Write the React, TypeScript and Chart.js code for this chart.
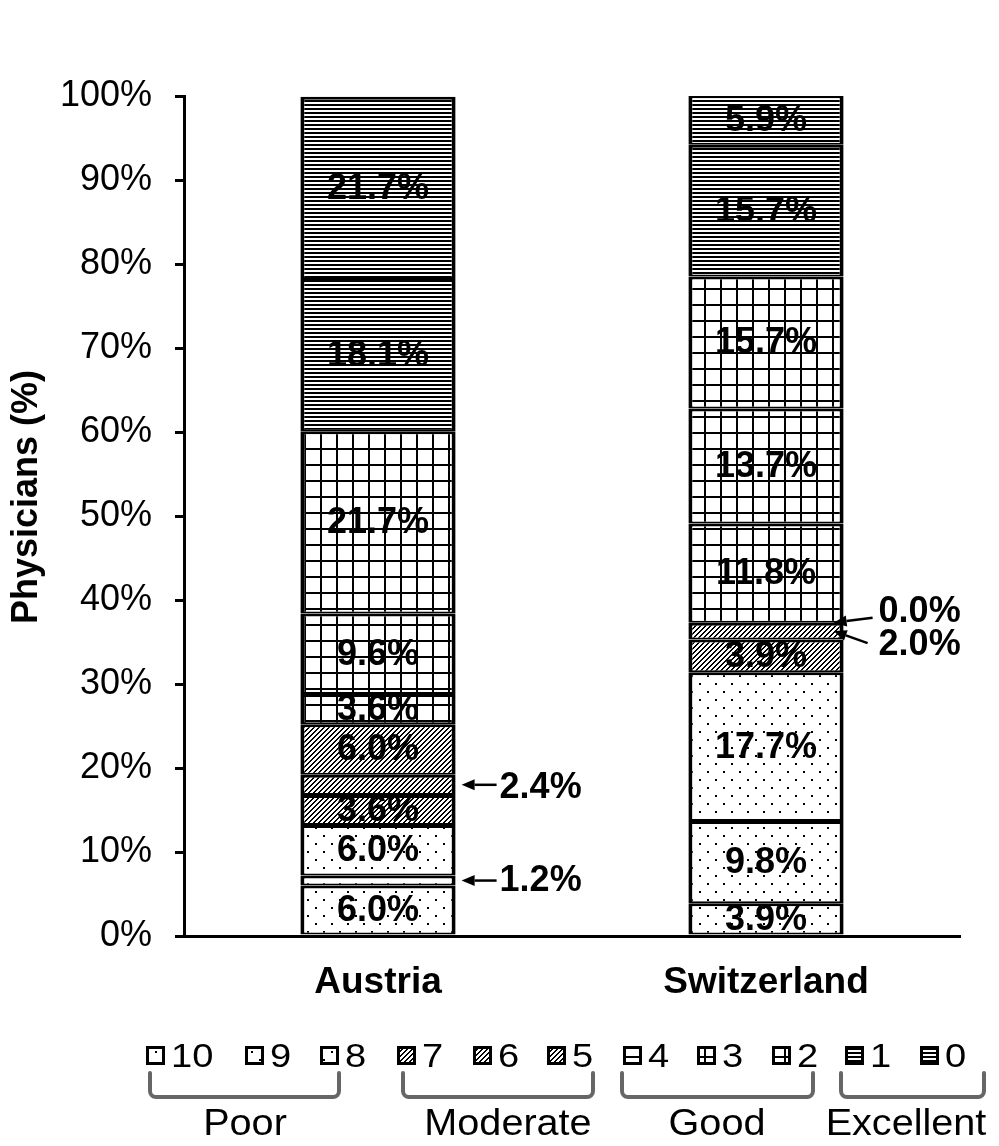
import { useEffect, useRef } from 'react';
import { Chart, registerables } from 'chart.js';

Chart.register(...registerables);

// ---- data ----
const countries = ['Austria', 'Switzerland'];
// rating scale, bottom of the stack first
const ratings = ['10', '9', '8', '7', '6', '5', '4', '3', '2', '1', '0'];
const austriaPct = [6.0, 1.2, 6.0, 3.6, 2.4, 6.0, 3.6, 9.6, 21.7, 18.1, 21.7];
const switzerlandPct = [3.9, 9.8, 17.7, 3.9, 2.0, 0.0, 11.8, 13.7, 15.7, 15.7, 5.9];
const yTickValues = [0, 10, 20, 30, 40, 50, 60, 70, 80, 90, 100];
const groupNames = ['Poor', 'Moderate', 'Good', 'Excellent'];
const groupMembers = [['10', '9', '8'], ['7', '6', '5'], ['4', '3', '2'], ['1', '0']];

// segments too thin for an inside label get an arrow callout
const calloutCountry = [0, 0, 1, 1];
const calloutRating = ['6', '9', '5', '6'];

const FONT = "'Liberation Sans', Arial, Helvetica, sans-serif";

type Fill = 'dots' | 'hatch' | 'grid' | 'lines';
const fillFor = (rating: string): Fill => {
  const g = groupMembers.findIndex((m) => m.includes(rating));
  return (['dots', 'hatch', 'grid', 'lines'] as Fill[])[g];
};

function makePattern(kind: Fill): CanvasPattern {
  const c = document.createElement('canvas');
  const size = kind === 'dots' || kind === 'grid' ? 16 : kind === 'hatch' ? 5 : 4;
  c.width = size;
  c.height = size;
  const ctx = c.getContext('2d')!;
  ctx.fillStyle = '#fff';
  ctx.fillRect(0, 0, size, size);
  ctx.fillStyle = '#000';
  if (kind === 'dots') {
    ctx.fillRect(3, 3, 2, 2);
    ctx.fillRect(11, 11, 2, 2);
  } else if (kind === 'hatch') {
    for (let x = 0; x < size; x++)
      for (let y = 0; y < size; y++) if ((x + y) % 5 < 2) ctx.fillRect(x, y, 1, 1);
  } else if (kind === 'grid') {
    ctx.fillRect(0, 0, size, 2);
    ctx.fillRect(0, 0, 2, size);
  } else {
    ctx.fillRect(0, 0, size, 2);
  }
  return ctx.createPattern(c, 'repeat')!;
}

// legend layout (box left edges in px) and bracket spans
const legendBoxX = [146, 245, 320, 397, 473, 547, 623, 697, 772, 845, 920];
const bracketSpan = [
  [150, 339],
  [403, 593],
  [622, 813],
  [841, 984],
];
const groupLabelX = [245, 508, 717, 906];

// callout geometry relative to the bar edge
const calloutGeom = [
  { tipDx: 6, tailDx: 41, tailDy: 0, textDx: 44, textDy: 3, anchor: 'mid' },
  { tipDx: 6, tailDx: 41, tailDy: 0, textDx: 44, textDy: 1, anchor: 'mid' },
  { tipDx: -10, tailDx: 29, tailDy: -5, textDx: 35, textDy: -11, anchor: 'top' },
  { tipDx: -10, tailDx: 24, tailDy: 12, textDx: 35, textDy: 14, anchor: 'mid' },
];

function arrow(ctx: CanvasRenderingContext2D, x0: number, y0: number, x1: number, y1: number) {
  const ang = Math.atan2(y1 - y0, x1 - x0);
  const len = 13;
  const hw = 5.5;
  const bx = x1 - Math.cos(ang) * len;
  const by = y1 - Math.sin(ang) * len;
  ctx.beginPath();
  ctx.moveTo(x0, y0);
  ctx.lineTo(bx, by);
  ctx.lineWidth = 2.5;
  ctx.strokeStyle = '#000';
  ctx.stroke();
  ctx.beginPath();
  ctx.moveTo(x1, y1);
  ctx.lineTo(bx - Math.sin(ang) * hw, by + Math.cos(ang) * hw);
  ctx.lineTo(bx + Math.sin(ang) * hw, by - Math.cos(ang) * hw);
  ctx.closePath();
  ctx.fillStyle = '#000';
  ctx.fill();
}

// text drawn slightly widened, as in the legend artwork
function wideText(ctx: CanvasRenderingContext2D, text: string, x: number, y: number, sx: number) {
  ctx.save();
  ctx.translate(x, y);
  ctx.scale(sx, 1);
  ctx.fillText(text, 0, 0);
  ctx.restore();
}

export default function App() {
  const ref = useRef<HTMLCanvasElement>(null);

  useEffect(() => {
    const canvas = ref.current!;
    const patterns: Record<Fill, CanvasPattern> = {
      dots: makePattern('dots'),
      hatch: makePattern('hatch'),
      grid: makePattern('grid'),
      lines: makePattern('lines'),
    };
    const series = [austriaPct, switzerlandPct];

    const labelPlugin = {
      id: 'segmentLabels',
      afterDatasetsDraw(chart: any) {
        const ctx: CanvasRenderingContext2D = chart.ctx;
        ctx.save();
        ctx.font = `bold 36px ${FONT}`;
        ctx.fillStyle = '#000';
        ctx.textBaseline = 'middle';
        chart.data.datasets.forEach((ds: any, i: number) => {
          const meta = chart.getDatasetMeta(i);
          meta.data.forEach((el: any, j: number) => {
            const v = ds.data[j];
            const ci = calloutRating.findIndex((r, k) => r === ratings[i] && calloutCountry[k] === j);
            const text = `${v.toFixed(1)}%`;
            if (ci < 0) {
              ctx.textAlign = 'center';
              ctx.fillText(text, el.x, (el.y + el.base) / 2 + 1);
              return;
            }
            const g = calloutGeom[ci];
            const edge = el.x + el.width / 2;
            const tipY = g.anchor === 'top' ? el.y : (el.y + el.base) / 2;
            const tipX = edge + g.tipDx;
            arrow(ctx, edge + g.tailDx, tipY + g.tailDy, tipX, tipY);
            ctx.textAlign = 'left';
            ctx.fillText(text, edge + g.textDx, tipY + g.textDy);
          });
        });
        ctx.restore();
      },
    };

    const decorPlugin = {
      id: 'decor',
      afterDraw(chart: any) {
        const ctx: CanvasRenderingContext2D = chart.ctx;
        const area = chart.chartArea;
        ctx.save();
        // y-axis title
        ctx.translate(27, (area.top + area.bottom) / 2 - 19);
        ctx.rotate(-Math.PI / 2);
        ctx.font = `bold 36px ${FONT}`;
        ctx.fillStyle = '#000';
        ctx.textAlign = 'center';
        ctx.textBaseline = 'middle';
        ctx.fillText('Physicians (%)', 0, 0);
        ctx.restore();

        // legend row
        ctx.save();
        const boxY = 1046;
        const box = 19;
        ratings.forEach((r, i) => {
          const x = legendBoxX[i];
          ctx.fillStyle = patterns[fillFor(r)];
          ctx.fillRect(x, boxY, box, box);
          ctx.lineWidth = 3;
          ctx.strokeStyle = '#000';
          ctx.strokeRect(x + 1.5, boxY + 1.5, box - 3, box - 3);
          ctx.fillStyle = '#000';
          ctx.font = `34px ${FONT}`;
          ctx.textAlign = 'left';
          ctx.textBaseline = 'alphabetic';
          wideText(ctx, r, x + box + 6, 1067, 1.12);
        });
        // group brackets
        groupNames.forEach((name, g) => {
          const [l, rr] = bracketSpan[g];
          const top = 1073;
          const bot = 1097;
          const rad = 6;
          ctx.beginPath();
          ctx.moveTo(l, top);
          ctx.lineTo(l, bot - rad);
          ctx.arcTo(l, bot, l + rad, bot, rad);
          ctx.lineTo(rr - rad, bot);
          ctx.arcTo(rr, bot, rr, bot - rad, rad);
          ctx.lineTo(rr, top);
          ctx.lineWidth = 4;
          ctx.strokeStyle = '#666';
          ctx.lineCap = 'round';
          ctx.stroke();
          ctx.fillStyle = '#000';
          ctx.font = `36px ${FONT}`;
          ctx.textAlign = 'center';
          wideText(ctx, name, groupLabelX[g], 1135, 1.1);
        });
        ctx.restore();
      },
    };

    const chart = new Chart(canvas, {
      type: 'bar',
      data: {
        labels: countries,
        datasets: ratings.map((r, i) => ({
          label: r,
          data: series.map((s) => s[i]),
          backgroundColor: patterns[fillFor(r)],
          borderColor: '#000',
          borderWidth: { top: 3, bottom: 2, left: 4, right: 4 },
          borderSkipped: false,
          barPercentage: 0.4,
          categoryPercentage: 1,
          inflateAmount: 0,
        })),
      },
      options: {
        responsive: false,
        animation: false,
        events: [],
        layout: { padding: { top: 96, right: 39, left: 0, bottom: 0 } },
        plugins: { legend: { display: false }, tooltip: { enabled: false } },
        scales: {
          x: {
            stacked: true,
            grid: { display: false },
            border: { display: true, color: '#000', width: 3 },
            ticks: { color: '#000', font: { family: FONT, size: 37, weight: 'bold' }, padding: 17 },
            afterFit: (s: any) => {
              s.height = 210;
            },
          },
          y: {
            stacked: true,
            min: 0,
            max: 100,
            afterBuildTicks: (s: any) => {
              s.ticks = yTickValues.map((v) => ({ value: v }));
            },
            grid: {
              drawOnChartArea: false,
              drawTicks: true,
              tickLength: 9,
              color: '#000',
              lineWidth: 3,
            },
            border: { display: true, color: '#000', width: 3 },
            ticks: {
              color: '#000',
              font: { family: FONT, size: 36 },
              padding: 23,
              callback: (v: any) => `${v}%`,
            },
            afterFit: (s: any) => {
              s.width = 184;
            },
          },
        },
      },
      plugins: [labelPlugin, decorPlugin],
    } as any);

    return () => chart.destroy();
  }, []);

  return (
    <div style={{ position: 'absolute', left: 0, top: 0, width: 999, height: 1146, background: '#fff' }}>
      <canvas ref={ref} width={999} height={1146} />
    </div>
  );
}
